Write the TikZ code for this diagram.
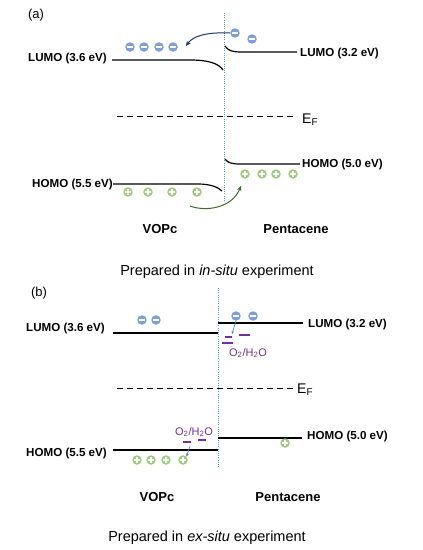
\documentclass[tikz,border=0pt]{standalone}
\usepackage{fontspec}
\setmainfont{Liberation Sans}
\usetikzlibrary{arrows.meta,positioning}
\definecolor{elecblue}{HTML}{7F9ED6}
\definecolor{holegreen}{HTML}{9CCB7E}
\definecolor{trapviolet}{HTML}{7030A0}
\definecolor{ifaceblue}{HTML}{5B9BD5}
\definecolor{arrownavy}{HTML}{203864}
\definecolor{arrowgreen}{HTML}{3B6B2C}
\definecolor{pointblue}{HTML}{4472C4}

\tikzset{
  band/.style={line width=1.2pt},
  divide/.style={ifaceblue, line width=1pt, dash pattern=on 1pt off 1.2pt},
  fermi/.style={line width=0.9pt, dash pattern=on 6pt off 4pt},
  lbl/.style={font=\fontsize{11.6}{13}\selectfont\bfseries, inner sep=0pt},
  mat/.style={font=\fontsize{13}{15}\selectfont\bfseries, inner sep=0pt},
  capt/.style={font=\fontsize{14.5}{17}\selectfont, inner sep=0pt},
  tag/.style={font=\fontsize{13}{15}\selectfont, inner sep=0pt},
  eflbl/.style={font=\fontsize{14}{16}\selectfont, inner sep=0pt, anchor=base west},
  trap/.style={trapviolet, line width=1.2pt},
  traplbl/.style={trapviolet, font=\fontsize{11}{13}\selectfont, inner sep=0pt},
  elec/.style={circle, fill=elecblue, minimum size=9.5pt, inner sep=0pt,
    path picture={\draw[white, line width=1.8pt]
      ([xshift=-2.7pt]path picture bounding box.center) --
      ([xshift=2.7pt]path picture bounding box.center);}},
  hole/.style={circle, fill=holegreen, minimum size=9.5pt, inner sep=0pt,
    path picture={\draw[white, line width=1.8pt]
      ([xshift=-2.7pt]path picture bounding box.center) --
      ([xshift=2.7pt]path picture bounding box.center)
      ([yshift=-2.7pt]path picture bounding box.center) --
      ([yshift=2.7pt]path picture bounding box.center);}}
}

\begin{document}
\begin{tikzpicture}[x=1pt, y=-1pt, >=Stealth]
    \useasboundingbox (0,0) rectangle (423,550);

    % (a) in-situ interface
    \node[tag] (tagA) at (36,15) {(a)};
    \draw[divide] (224,13) -- (224,202);

    % LUMO levels, bent at the interface
    \draw[band] (112,60) -- (190,60) .. controls (210,60) and (219,64) .. (223,70);
    \draw[band] (225,46) .. controls (228,51) and (233,52) .. (242,52) -- (297,52);
    \node[lbl, anchor=east] (lumoLa) at (107,58) {LUMO (3.6 eV)};
    \node[lbl, anchor=west] (lumoRa) at (300,53) {LUMO (3.2 eV)};

    % Fermi level
    \draw[fermi] (117,116) -- (297,116);
    \node[eflbl] (efA) at (302,123) {E\textsubscript{F}};

    % HOMO levels
    \draw[band] (113,184) -- (198,184) .. controls (210,184) and (218,187) .. (222,191);
    \draw[band] (225,159) .. controls (228,163) and (232,164) .. (240,164) -- (300,164);
    \node[lbl, anchor=east] (homoLa) at (113,184) {HOMO (5.5 eV)};
    \node[lbl, anchor=west] (homoRa) at (302,164) {HOMO (5.0 eV)};

    % Charges
    \foreach \x [count=\i] in {130,144,159,173}
        \node[elec] (ea\i) at (\x,47) {};
    \node[elec] (ea5) at (235,33) {};
    \node[elec] (ea6) at (252,39) {};
    \foreach \x [count=\i] in {128,148,172,197}
        \node[hole] (ha\i) at (\x,192) {};
    \foreach \x [count=\i from 5] in {245,262,276,293}
        \node[hole] (ha\i) at (\x,174) {};

    % Transfer arrows
    \coordinate (etipA) at (186,46);
    \draw[arrownavy, line width=1pt, -{Stealth[length=5pt, width=4.5pt]}]
        (ea5.west) .. controls (206,32) and (193,36) .. (etipA);
    \coordinate (hstartA) at (190,206);
    \coordinate (htipA) at (241,186);
    \draw[arrowgreen, line width=1pt, -{Stealth[length=5pt, width=4.5pt]}]
        (hstartA) .. controls (206,212) and (232,208) .. (htipA);

    \node[mat] (vopcA) at (160,229) {VOPc};
    \node[mat] (pentA) at (296,229) {Pentacene};
    \node[capt] (captA) at (217,272) {Prepared in \textit{in-situ} experiment};

    % (b) ex-situ interface
    \node[tag] (tagB) at (39,293) {(b)};
    \draw[divide] (218,288) -- (218,468);

    % LUMO levels, flat
    \draw[band] (113,333) -- (218,333);
    \draw[band] (218,323) -- (303,323);
    \node[lbl, anchor=east] (lumoLb) at (105,328) {LUMO (3.6 eV)};
    \node[lbl, anchor=west] (lumoRb) at (308,324) {LUMO (3.2 eV)};

    % Trap states below the LUMO
    \draw[trap] (225,337) -- (232,337);
    \draw[trap] (239,335) -- (250,335);
    \draw[trap] (222,343) -- (233,343);
    \node[traplbl] (trapU) at (248,353) {O\textsubscript{2}/H\textsubscript{2}O};

    % Fermi level
    \draw[fermi] (117,388) -- (293,388);
    \node[eflbl] (efB) at (297,393) {E\textsubscript{F}};

    % HOMO levels
    \draw[band] (113,450) -- (218,450);
    \draw[band] (218,438) -- (302,438);
    \node[lbl, anchor=east] (homoLb) at (107,453) {HOMO (5.5 eV)};
    \node[lbl, anchor=west] (homoRb) at (307,436) {HOMO (5.0 eV)};

    % Trap states above the HOMO
    \node[traplbl] (trapL) at (194,432) {O\textsubscript{2}/H\textsubscript{2}O};
    \draw[trap] (183,442) -- (191,442);
    \draw[trap] (198,440) -- (206,440);

    % Charges
    \node[elec] (eb1) at (142,320) {};
    \node[elec] (eb2) at (156,320) {};
    \node[elec] (eb3) at (236,316) {};
    \node[elec] (eb4) at (253,316) {};
    \foreach \x [count=\i] in {137,151,166,183}
        \node[hole] (hb\i) at (\x,460) {};
    \node[hole] (hb5) at (285,443) {};

    % Trapping arrows
    \coordinate (etipB) at (232,334);
    \draw[pointblue, line width=0.6pt, -{Stealth[length=3pt, width=2.5pt]}]
        (eb3.south) -- (etipB);
    \coordinate (hstartB) at (190,446);
    \draw[pointblue, line width=0.6pt, -{Stealth[length=3pt, width=2.5pt]}]
        (hstartB) -- (hb4.north east);

    \node[mat] (vopcB) at (157,497) {VOPc};
    \node[mat] (pentB) at (288,497) {Pentacene};
    \node[capt] (captB) at (207,538) {Prepared in \textit{ex-situ} experiment};
\end{tikzpicture}
\end{document}
